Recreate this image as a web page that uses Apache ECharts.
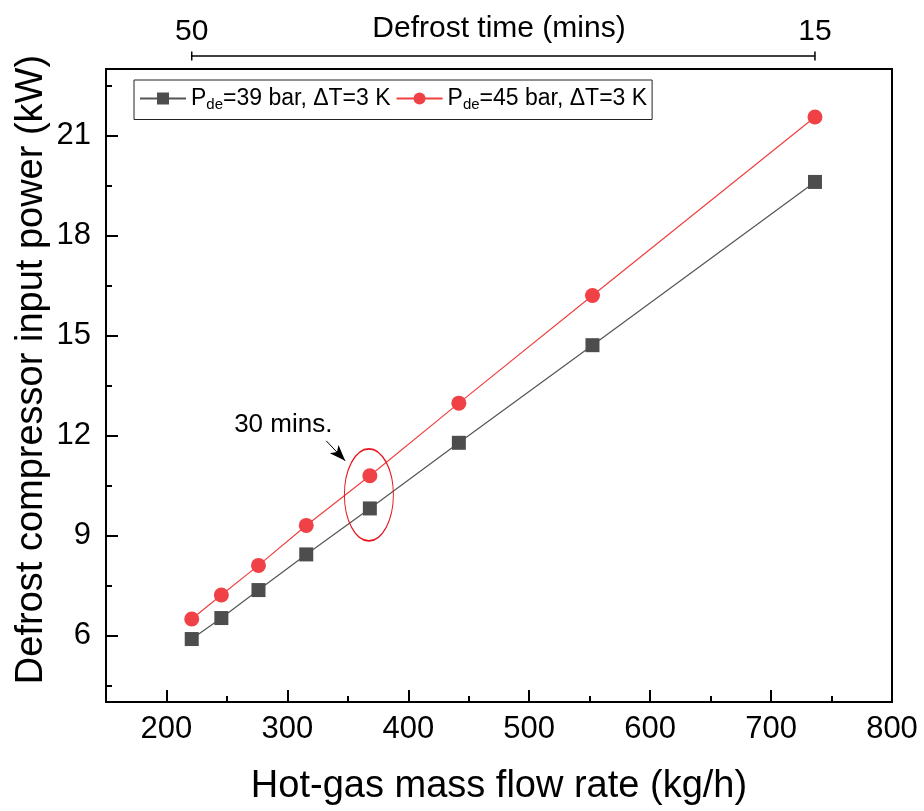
<!DOCTYPE html>
<html>
<head>
<meta charset="utf-8">
<script src="https://cdn.jsdelivr.net/npm/echarts@6/dist/echarts.min.js"></script>
<style>
html,body{margin:0;padding:0;background:#fff;}
#chart{width:924px;height:811px;}
</style>
</head>
<body>
<div id="chart"></div>
<script>
// ---- data ----
const massFlow = [220.9, 245.4, 276.1, 315.6, 368.2, 441.8, 552.3, 736.3];
const defrostTimes = [50, 45, 40, 35, 30, 25, 20, 15];
const power39 = [5.89, 6.52, 7.36, 8.43, 9.81, 11.78, 14.71, 19.61];
const power45 = [6.49, 7.21, 8.10, 9.30, 10.79, 12.97, 16.20, 21.56];
const xMajorTicks = [200, 300, 400, 500, 600, 700, 800];
const xMinorTicks = [250, 350, 450, 550, 650, 750];
const yMajorTicks = [6, 9, 12, 15, 18, 21];
const yMinorTicks = [4.5, 7.5, 10.5, 13.5, 16.5, 19.5, 22.5];
const topAxisTicks = [massFlow[0], massFlow[massFlow.length - 1]];
// annotation (data coordinates)
const ellipseCenter = [367.4, 10.22];
const arrowFrom = [332.1, 11.84];
const arrowTo = [347.8, 11.24];
const noteAt = [296.6, 12.32];
const noteText = '30 mins.';

const FONT = 'Liberation Sans, Arial, Helvetica, sans-serif';
const chart = echarts.init(document.getElementById('chart'));

const legendRich = {
  n: {fontSize: 23, fontFamily: FONT, color: '#000'},
  s: {fontSize: 15, fontFamily: FONT, color: '#000', verticalAlign: 'bottom', padding: [13, 0, 0, 0]}
};

chart.setOption({
  animation: false,
  backgroundColor: '#fff',
  textStyle: {fontFamily: FONT},
  legend: {
    left: 134, top: 80,
    orient: 'horizontal',
    data: ['p39', 'p45'],
    formatter: function (name) {
      return name === 'p39'
        ? '{n|P}{s|de}{n|=39 bar, \u0394T=3 K}'
        : '{n|P}{s|de}{n|=45 bar, \u0394T=3 K}';
    },
    textStyle: {rich: legendRich, fontSize: 23},
    itemWidth: 46, itemHeight: 15, itemGap: 5,
    borderColor: '#222', borderWidth: 1, padding: [7, 5, 7, 5],
    backgroundColor: '#fff'
  },
  grid: [
    {left: 106, right: 32, top: 69, bottom: 106, show: true, borderColor: '#000', borderWidth: 2, backgroundColor: 'transparent'},
    {left: 106, right: 32, top: 51, height: 10, show: false}
  ],
  xAxis: [
    {
      type: 'value', gridIndex: 0, min: 150, max: 800, position: 'bottom',
      axisLine: {show: true, lineStyle: {color: '#000', width: 2}},
      axisTick: {show: true, inside: true, length: 12, customValues: xMajorTicks, lineStyle: {color: '#000', width: 2}},
      axisLabel: {show: true, customValues: xMajorTicks, fontSize: 31, color: '#000', margin: 12, fontFamily: FONT},
      splitLine: {show: false},
      name: 'Hot-gas mass flow rate (kg/h)', nameLocation: 'middle', nameGap: 66, nameMoveOverlap: false,
      nameTextStyle: {fontSize: 38, color: '#000', fontFamily: FONT}
    },
    {
      type: 'value', gridIndex: 0, min: 150, max: 800, position: 'bottom',
      axisLine: {show: false},
      axisTick: {show: true, inside: true, length: 6, customValues: xMinorTicks, lineStyle: {color: '#000', width: 2}},
      axisLabel: {show: false},
      splitLine: {show: false}
    },
    {
      type: 'value', gridIndex: 1, min: 150, max: 800, position: 'top',
      axisLine: {show: false}, axisTick: {show: false}, splitLine: {show: false},
      axisLabel: {
        show: true, customValues: topAxisTicks, fontSize: 30, color: '#000', margin: 4, fontFamily: FONT,
        formatter: function (v) {
          let best = 0;
          massFlow.forEach(function (m, i) { if (Math.abs(m - v) < Math.abs(massFlow[best] - v)) best = i; });
          return String(defrostTimes[best]);
        }
      },
      name: 'Defrost time (mins)', nameLocation: 'middle', nameGap: 22, nameMoveOverlap: false,
      nameTextStyle: {fontSize: 30, color: '#000', fontFamily: FONT, verticalAlign: 'middle'}
    }
  ],
  yAxis: [
    {
      type: 'value', gridIndex: 0, min: 4, max: 23, position: 'left',
      axisLine: {show: true, lineStyle: {color: '#000', width: 2}},
      axisTick: {show: true, inside: true, length: 12, customValues: yMajorTicks, lineStyle: {color: '#000', width: 2}},
      axisLabel: {show: true, customValues: yMajorTicks, fontSize: 31, color: '#000', margin: 15, fontFamily: FONT},
      splitLine: {show: false},
      name: 'Defrost compressor input power (kW)', nameLocation: 'middle', nameGap: 55, nameMoveOverlap: false,
      nameTextStyle: {fontSize: 38, color: '#000', fontFamily: FONT, padding: [0, 0, 0, 32]}
    },
    {
      type: 'value', gridIndex: 0, min: 4, max: 23, position: 'left',
      axisLine: {show: false},
      axisTick: {show: true, inside: true, length: 6, customValues: yMinorTicks, lineStyle: {color: '#000', width: 2}},
      axisLabel: {show: false},
      splitLine: {show: false}
    },
    {type: 'value', gridIndex: 1, min: -1, max: 1, show: false}
  ],
  series: [
    {
      name: 'p39', type: 'line', xAxisIndex: 0, yAxisIndex: 0,
      data: massFlow.map(function (x, i) { return [x, power39[i]]; }),
      symbol: 'rect', symbolSize: 14,
      itemStyle: {color: '#4d4d4d'},
      lineStyle: {color: '#555', width: 1.2},
      z: 3
    },
    {
      name: 'p45', type: 'line', xAxisIndex: 0, yAxisIndex: 0,
      data: massFlow.map(function (x, i) { return [x, power45[i]]; }),
      symbol: 'circle', symbolSize: 15,
      itemStyle: {color: '#ef4146'},
      lineStyle: {color: '#f04040', width: 1.2},
      z: 3,
      markPoint: {
        silent: true,
        data: [
          {coord: ellipseCenter, symbol: 'circle', symbolSize: [49, 92],
           itemStyle: {color: 'rgba(0,0,0,0)', borderColor: '#e8141c', borderWidth: 1.3},
           label: {show: false}},
          {coord: noteAt, symbol: 'circle', symbolSize: 0,
           label: {show: true, formatter: noteText, fontSize: 26, color: '#000', fontFamily: FONT, position: 'inside'}}
        ]
      },
      markLine: {
        silent: true,
        symbol: ['none', 'arrow'], symbolSize: [9, 16],
        label: {show: false},
        lineStyle: {color: '#000', width: 1, type: 'solid'},
        data: [[{coord: arrowFrom}, {coord: arrowTo}]]
      }
    },
    {
      name: 'topAxisLine', type: 'line', xAxisIndex: 2, yAxisIndex: 2,
      data: topAxisTicks.map(function (x) { return [x, 0]; }),
      symbol: 'rect', symbolSize: [1.5, 9],
      itemStyle: {color: '#000'}, lineStyle: {color: '#000', width: 1.5},
      silent: true
    }
  ]
});
</script>
</body>
</html>
